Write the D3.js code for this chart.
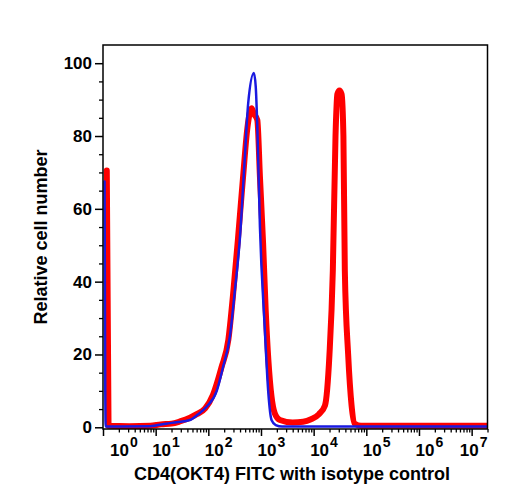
<!DOCTYPE html>
<html><head><meta charset="utf-8">
<script src="https://cdn.jsdelivr.net/npm/d3@7"></script>
<style>
body{margin:0;background:#fff}
text{font-family:"Liberation Sans",Arial,Helvetica,sans-serif;font-weight:bold;fill:#000}
</style>
</head><body>
<svg id="chart" width="508" height="500"></svg>
<script>
// ---- data (x as log10 of fluorescence, y as relative cell number) ----
const redLogX = [0.072,0.105,0.5,0.9,1.1,1.3,1.46,1.65,1.78,1.94,2.09,2.25,2.38,2.47,2.57,2.66,2.74,2.79,2.82,2.87,2.93,2.98,3.04,3.09,3.14,3.20,3.26,3.36,3.6,3.8,3.95,4.1,4.215,4.30,4.364,4.415,4.45,4.49,4.53,4.565,4.592,4.655,4.72,4.78,4.9,7.3];
const redCount = [70.5,0.4,0.3,0.4,0.8,1.0,1.6,2.6,3.6,5.2,9.0,16.5,24,36.5,53,68.8,82,86.5,87.6,86,84.4,68.8,50.5,32,18.5,8.4,3.9,2.0,1.3,1.5,2.2,3.6,6,20,43,80,91.5,92.5,91.5,80,43,20,6,1,0.4,0.4];

const blueLogX = [0.03,0.05,0.9,1.0,1.2,1.4,1.65,1.8,1.97,2.16,2.28,2.41,2.5,2.6,2.69,2.757,2.865,2.90,2.93,2.98,3.07,3.14,3.2,3.28,3.4,7.3];
const blueCount = [67.5,0.2,0.3,0.5,1.0,1.4,2.0,3.5,5.7,10,16.6,25,37,52,73.4,89,97.3,93.6,82.6,55,27.6,9.3,2.0,0.6,0.2,0.2];

const xTickExponents = [0,1,2,3,4,5,6,7];
const yTickValues = [0,20,40,60,80,100];
const xTitle = "CD4(OKT4) FITC with isotype control";
const yTitle = "Relative cell number";

// ---- layout ----
const L = 103, T = 45, R = 487.5, B = 429;
const svg = d3.select("#chart");
const x = d3.scaleLog().domain([1, 2e7]).range([L, R]);
const y = d3.scaleLinear().domain([-0.47, 105]).range([B, T]);

svg.append("defs").append("clipPath").attr("id","clip")
  .append("rect").attr("x",L).attr("y",T).attr("width",R-L).attr("height",B-T);

const toPts = (lx, c) => lx.map((v,i)=>[Math.pow(10,v), c[i]]);
const line = d3.line().x(d=>x(d[0])).y(d=>y(d[1])).curve(d3.curveMonotoneX);

const plot = svg.append("g").attr("clip-path","url(#clip)");
plot.append("path").datum(toPts(redLogX, redCount))
  .attr("d", line).attr("fill","none").attr("stroke","#ff0000")
  .attr("stroke-width",6).attr("stroke-linejoin","round").attr("stroke-linecap","round");
plot.append("path").datum(toPts(blueLogX, blueCount))
  .attr("d", line).attr("fill","none").attr("stroke","#1a1ae0")
  .attr("stroke-width",2.5).attr("stroke-linejoin","round").attr("stroke-linecap","round");

// ---- frame ----
svg.append("rect").attr("x",L).attr("y",T).attr("width",R-L).attr("height",B-T)
  .attr("fill","none").attr("stroke","#000").attr("stroke-width",1.5);

// ---- y axis ----
const yMinor = d3.range(0, 101, 5).filter(v => v % 20 !== 0);
svg.append("g").attr("transform",`translate(${L},0)`)
  .call(d3.axisLeft(y).tickValues(yMinor).tickSize(4).tickFormat(""))
  .call(g=>g.select(".domain").remove())
  .call(g=>g.selectAll("line").attr("stroke-width",1.3));
const yAx = svg.append("g").attr("transform",`translate(${L},0)`)
  .call(d3.axisLeft(y).tickValues(yTickValues).tickSize(8).tickPadding(3).tickFormat(d3.format("d")));
yAx.select(".domain").remove();
yAx.selectAll("line").attr("stroke-width",1.5);
yAx.selectAll("text").style("font-size","17px").style("font-family",'"Liberation Sans",Arial,sans-serif').style("font-weight","bold");

// ---- x axis ----
const xMinor = [];
xTickExponents.forEach(e => { for (let k=2;k<=9;k++){ const v=k*Math.pow(10,e); if (v<=2e7) xMinor.push(v);} });
svg.append("g").attr("transform",`translate(0,${B})`)
  .call(d3.axisBottom(x).tickValues(xMinor).tickSize(3.5).tickFormat(""))
  .call(g=>g.select(".domain").remove())
  .call(g=>g.selectAll("line").attr("stroke-width",1.3));
svg.append("g").attr("transform",`translate(0,${B})`)
  .call(d3.axisBottom(x).tickValues(xTickExponents.map(e=>Math.pow(10,e))).tickSize(7).tickFormat(""))
  .call(g=>g.select(".domain").remove())
  .call(g=>g.selectAll("line").attr("stroke-width",1.5));

xTickExponents.forEach(e => {
  const t = svg.append("text").attr("y", 456).attr("text-anchor","start").style("font-size","17px");
  t.append("tspan").text("10");
  t.append("tspan").text(String(e)).attr("dy",-9).attr("dx",1).style("font-size","14px");
  const w = t.node().getComputedTextLength() + 1;
  let left = x(Math.pow(10,e)) - 3.5;
  left = Math.max(left, L + 7);
  left = Math.min(left, R - w);
  t.attr("x", left);
});

// ---- titles ----
svg.append("text").attr("x",292).attr("y",480).attr("text-anchor","middle")
  .style("font-size","18px").text(xTitle);
svg.append("text").attr("transform",`translate(47,${(T+B)/2}) rotate(-90)`)
  .attr("text-anchor","middle").style("font-size","18px").text(yTitle);
</script>
</body></html>
